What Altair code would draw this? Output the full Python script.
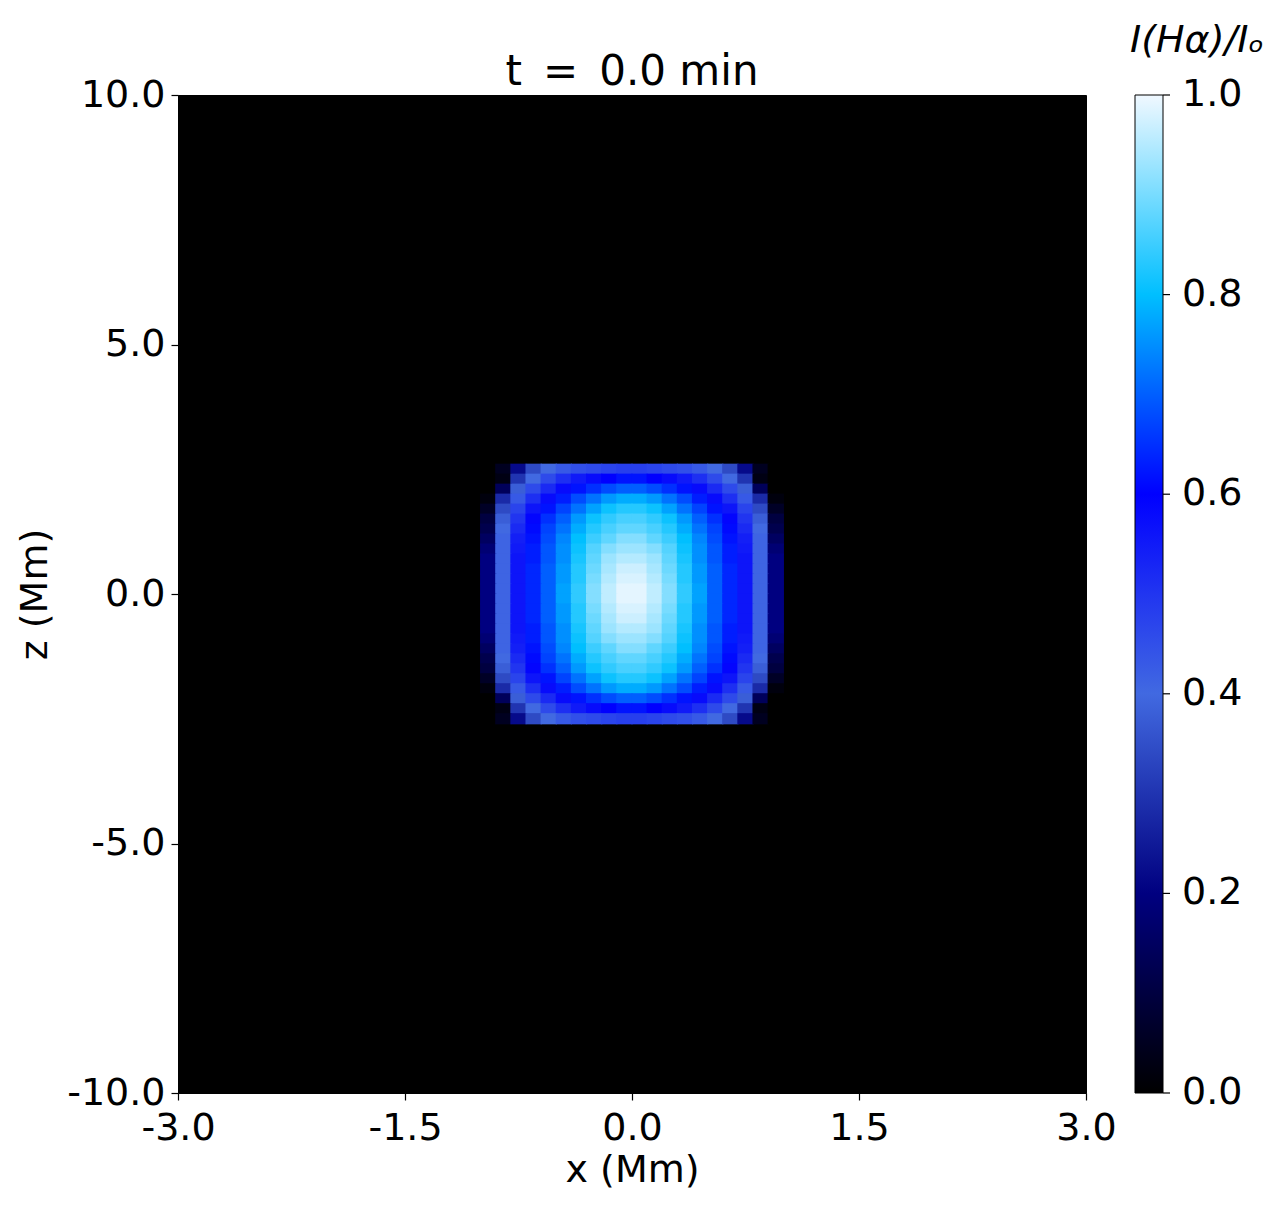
import altair as alt
import pandas as pd

# cell centres (Mm)
x_centers = [-0.95, -0.85, -0.75, -0.65, -0.55, -0.45, -0.35, -0.25, -0.15, -0.05,
             0.05, 0.15, 0.25, 0.35, 0.45, 0.55, 0.65, 0.75, 0.85, 0.95]
z_centers = [2.5, 2.3, 2.1, 1.9, 1.7, 1.5, 1.3, 1.1, 0.9, 0.7, 0.5, 0.3, 0.1,
             -0.1, -0.3, -0.5, -0.7, -0.9, -1.1, -1.3, -1.5, -1.7, -1.9, -2.1, -2.3, -2.5]
cell_dx = 0.1
cell_dz = 0.2

# I(H_alpha)/I_o read row by row (top to bottom), left to right
intensity_rows = [
    [0.00, 0.05, 0.22, 0.34, 0.40, 0.43, 0.45, 0.46, 0.47, 0.48, 0.48, 0.47, 0.46, 0.45, 0.43, 0.40, 0.34, 0.22, 0.05, 0.00],
    [0.00, 0.03, 0.30, 0.40, 0.46, 0.51, 0.55, 0.58, 0.60, 0.62, 0.62, 0.60, 0.58, 0.55, 0.51, 0.46, 0.40, 0.30, 0.03, 0.00],
    [0.00, 0.14, 0.38, 0.46, 0.52, 0.58, 0.62, 0.65, 0.68, 0.70, 0.70, 0.68, 0.65, 0.62, 0.58, 0.52, 0.46, 0.38, 0.14, 0.00],
    [0.02, 0.28, 0.43, 0.51, 0.58, 0.63, 0.68, 0.72, 0.76, 0.78, 0.78, 0.76, 0.72, 0.68, 0.63, 0.58, 0.51, 0.43, 0.28, 0.02],
    [0.06, 0.34, 0.47, 0.56, 0.62, 0.67, 0.72, 0.77, 0.81, 0.83, 0.83, 0.81, 0.77, 0.72, 0.67, 0.62, 0.56, 0.47, 0.34, 0.06],
    [0.10, 0.38, 0.50, 0.59, 0.65, 0.70, 0.76, 0.81, 0.84, 0.86, 0.86, 0.84, 0.81, 0.76, 0.70, 0.65, 0.59, 0.50, 0.38, 0.10],
    [0.12, 0.40, 0.52, 0.61, 0.67, 0.72, 0.78, 0.83, 0.86, 0.88, 0.88, 0.86, 0.83, 0.78, 0.72, 0.67, 0.61, 0.52, 0.40, 0.12],
    [0.15, 0.41, 0.54, 0.62, 0.68, 0.74, 0.80, 0.85, 0.88, 0.91, 0.91, 0.88, 0.85, 0.80, 0.74, 0.68, 0.62, 0.54, 0.41, 0.15],
    [0.18, 0.41, 0.55, 0.63, 0.69, 0.75, 0.81, 0.87, 0.91, 0.93, 0.93, 0.91, 0.87, 0.81, 0.75, 0.69, 0.63, 0.55, 0.41, 0.18],
    [0.20, 0.41, 0.56, 0.63, 0.69, 0.75, 0.82, 0.88, 0.93, 0.95, 0.95, 0.93, 0.88, 0.82, 0.75, 0.69, 0.63, 0.56, 0.41, 0.20],
    [0.20, 0.41, 0.56, 0.64, 0.70, 0.76, 0.83, 0.89, 0.94, 0.97, 0.97, 0.94, 0.89, 0.83, 0.76, 0.70, 0.64, 0.56, 0.41, 0.20],
    [0.20, 0.41, 0.56, 0.64, 0.70, 0.76, 0.83, 0.90, 0.95, 0.98, 0.98, 0.95, 0.90, 0.83, 0.76, 0.70, 0.64, 0.56, 0.41, 0.20],
    [0.20, 0.41, 0.56, 0.64, 0.70, 0.77, 0.84, 0.91, 0.96, 0.99, 0.99, 0.96, 0.91, 0.84, 0.77, 0.70, 0.64, 0.56, 0.41, 0.20],
    [0.20, 0.41, 0.56, 0.64, 0.70, 0.77, 0.84, 0.91, 0.96, 0.99, 0.99, 0.96, 0.91, 0.84, 0.77, 0.70, 0.64, 0.56, 0.41, 0.20],
    [0.20, 0.41, 0.56, 0.64, 0.70, 0.76, 0.83, 0.90, 0.95, 0.98, 0.98, 0.95, 0.90, 0.83, 0.76, 0.70, 0.64, 0.56, 0.41, 0.20],
    [0.20, 0.41, 0.56, 0.64, 0.70, 0.76, 0.83, 0.89, 0.94, 0.97, 0.97, 0.94, 0.89, 0.83, 0.76, 0.70, 0.64, 0.56, 0.41, 0.20],
    [0.20, 0.41, 0.56, 0.63, 0.69, 0.75, 0.82, 0.88, 0.93, 0.95, 0.95, 0.93, 0.88, 0.82, 0.75, 0.69, 0.63, 0.56, 0.41, 0.20],
    [0.18, 0.41, 0.55, 0.63, 0.69, 0.75, 0.81, 0.87, 0.91, 0.93, 0.93, 0.91, 0.87, 0.81, 0.75, 0.69, 0.63, 0.55, 0.41, 0.18],
    [0.15, 0.41, 0.54, 0.62, 0.68, 0.74, 0.80, 0.85, 0.88, 0.91, 0.91, 0.88, 0.85, 0.80, 0.74, 0.68, 0.62, 0.54, 0.41, 0.15],
    [0.12, 0.40, 0.52, 0.61, 0.67, 0.72, 0.78, 0.83, 0.86, 0.88, 0.88, 0.86, 0.83, 0.78, 0.72, 0.67, 0.61, 0.52, 0.40, 0.12],
    [0.10, 0.38, 0.50, 0.59, 0.65, 0.70, 0.76, 0.81, 0.84, 0.86, 0.86, 0.84, 0.81, 0.76, 0.70, 0.65, 0.59, 0.50, 0.38, 0.10],
    [0.06, 0.34, 0.47, 0.56, 0.62, 0.67, 0.72, 0.77, 0.81, 0.83, 0.83, 0.81, 0.77, 0.72, 0.67, 0.62, 0.56, 0.47, 0.34, 0.06],
    [0.02, 0.28, 0.43, 0.51, 0.58, 0.63, 0.68, 0.72, 0.76, 0.78, 0.78, 0.76, 0.72, 0.68, 0.63, 0.58, 0.51, 0.43, 0.28, 0.02],
    [0.00, 0.14, 0.38, 0.46, 0.52, 0.58, 0.62, 0.65, 0.68, 0.70, 0.70, 0.68, 0.65, 0.62, 0.58, 0.52, 0.46, 0.38, 0.14, 0.00],
    [0.00, 0.03, 0.30, 0.40, 0.46, 0.51, 0.55, 0.58, 0.60, 0.62, 0.62, 0.60, 0.58, 0.55, 0.51, 0.46, 0.40, 0.30, 0.03, 0.00],
    [0.00, 0.05, 0.22, 0.34, 0.40, 0.43, 0.45, 0.46, 0.47, 0.48, 0.48, 0.47, 0.46, 0.45, 0.43, 0.40, 0.34, 0.22, 0.05, 0.00],
]

# colour map stops
cmap_values = [0.0, 0.2, 0.4, 0.6, 0.8, 1.0]
cmap_colors = ["#000000", "#000080", "#4169e1", "#0000ff", "#00bfff", "#f0f8ff"]

x_ticks = [-3.0, -1.5, 0.0, 1.5, 3.0]
z_ticks = [-10.0, -5.0, 0.0, 5.0, 10.0]
cbar_ticks = [0.0, 0.2, 0.4, 0.6, 0.8, 1.0]

plot_title = "t\u2002=\u20020.0 min"
cbar_title = "I(Hα)/Iₒ"

# small overlap between neighbouring cells to hide anti-aliasing seams
ovx, ovz = 0.004, 0.012
records = []
for zi, zc in enumerate(z_centers):
    for xi, xc in enumerate(x_centers):
        records.append({
            "x0": xc - cell_dx / 2 - ovx, "x1": xc + cell_dx / 2 + ovx,
            "z0": zc - cell_dz / 2 - ovz, "z1": zc + cell_dz / 2 + ovz,
            "value": intensity_rows[zi][xi],
        })
df = pd.DataFrame(records)

FONT = "DejaVu Sans"
label_expr = "(datum.value < 0 ? '-' : '') + format(abs(datum.value), '.1f')"

cscale = alt.Scale(domain=cmap_values, range=cmap_colors, interpolate="rgb")

W, H = 908, 998
CB_X, CB_W = 957, 28

heat = alt.Chart(df).mark_rect().encode(
    x=alt.X("x0:Q",
            scale=alt.Scale(domain=[-3, 3], nice=False, zero=False),
            axis=alt.Axis(values=x_ticks, labelExpr=label_expr, title="x (Mm)",
                          grid=False, tickSize=7, tickWidth=1.2, tickColor="black",
                          domainColor="black", labelFontSize=38, titleFontSize=38,
                          labelFont=FONT, titleFont=FONT, titleFontWeight="normal",
                          labelColor="black", titleColor="black", labelFlush=False,
                          labelOverlap=False, labelPadding=9, titlePadding=4)),
    x2="x1:Q",
    y=alt.Y("z0:Q",
            scale=alt.Scale(domain=[-10, 10], nice=False, zero=False),
            axis=alt.Axis(values=z_ticks, labelExpr=label_expr, title="z (Mm)",
                          grid=False, tickSize=7, tickWidth=1.2, tickColor="black",
                          domainColor="black", labelFontSize=38, titleFontSize=38,
                          labelFont=FONT, titleFont=FONT, titleFontWeight="normal",
                          labelColor="black", titleColor="black", labelFlush=False,
                          labelOverlap=False, labelPadding=6, titlePadding=12)),
    y2="z1:Q",
    color=alt.Color("value:Q", scale=cscale,
                    legend=alt.Legend(title=None, orient="none",
                                      legendX=CB_X, legendY=0,
                                      direction="vertical",
                                      gradientLength=H, gradientThickness=CB_W,
                                      gradientStrokeColor="black", gradientStrokeWidth=1,
                                      labelOpacity=0, labelFontSize=1)),
)

# colour-bar ticks and labels on their own [0, 1] scale
cb_df = pd.DataFrame({"v": cbar_ticks, "label": [f"{v:.1f}" for v in cbar_ticks]})
cb_y = alt.Y("v:Q", scale=alt.Scale(domain=[0, 1], nice=False, zero=False), axis=None)
cb_tick_marks = alt.Chart(cb_df).mark_rule(color="black", strokeWidth=1.2).encode(
    x=alt.value(CB_X + CB_W), x2=alt.value(CB_X + CB_W + 7), y=cb_y
)
cb_labels = alt.Chart(cb_df).mark_text(
    fontSize=38, font=FONT, align="left", baseline="middle", color="black"
).encode(x=alt.value(CB_X + CB_W + 19), y=cb_y, text="label:N")
cbar = alt.layer(cb_tick_marks, cb_labels)

title_text = alt.Chart(pd.DataFrame({"label": [plot_title]})).mark_text(
    fontSize=42, font=FONT, align="center", baseline="alphabetic", color="black"
).encode(x=alt.value(W / 2), y=alt.value(-10), text="label:N")

cbar_text = alt.Chart(pd.DataFrame({"label": [cbar_title]})).mark_text(
    fontSize=38, font=FONT, fontStyle="italic", align="left", baseline="alphabetic", color="black"
).encode(x=alt.value(952), y=alt.value(-43), text="label:N")

chart = alt.layer(heat, cbar, title_text, cbar_text).resolve_scale(
    y="independent"
).properties(
    width=W,
    height=H,
    padding={"left": 8, "top": 14, "right": 5, "bottom": 5},
).configure(
    background="white"
).configure_view(
    fill="black", stroke="black", strokeWidth=1
)

chart.save("out.html", embed_options={"renderer": "svg", "actions": False})
